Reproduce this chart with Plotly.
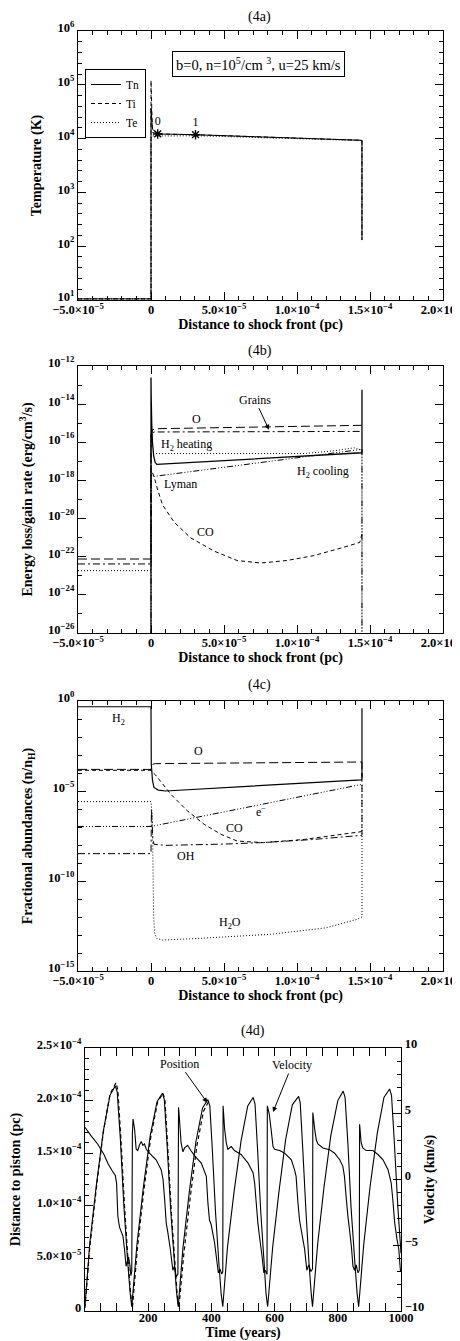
import plotly.graph_objects as go

W, H = 460, 1341

# ---------------- Panel (4a) temperature ----------------
a_tn_x = [-5e-5, 0, 0, 1e-6, 4.6e-6, 3.05e-5, 1.445e-4, 1.445e-4]
a_tn_y = [10.5, 10.5, 3.7e4, 1.5e4, 1.22e4, 1.18e4, 9.3e3, 130]
a_ti_x = [-5e-5, 0, 0, 1e-6, 4.6e-6, 3.05e-5, 1.445e-4, 1.445e-4]
a_ti_y = [10.5, 10.5, 1.2e5, 1.3e4, 1.22e4, 1.18e4, 9.3e3, 130]
a_te_x = [-5e-5, 0, 0, 1e-6, 4.6e-6, 3.05e-5, 1.445e-4, 1.445e-4]
a_te_y = [10.5, 10.5, 1.2e4, 1.12e4, 1.12e4, 1.13e4, 9.2e3, 130]
a_mark_x = [4.6e-6, 3.05e-5]
a_mark_y = [1.22e4, 1.18e4]
a_mark_lbl = ["0", "1"]

# ---------------- Panel (4b) energy rates (log10) ----------------
b_h2cool_x = [0, 0, 1e-7, 5e-7, 1.0e-6, 1.8e-6, 2.8e-6, 4e-6, 1.445e-4, 1.445e-4]
b_h2cool_y = [-27, -12.6, -13.5, -15.0, -16.0, -16.7, -17.05, -17.16, -16.55, -13.25]
b_o_x = [-5e-5, 0, 0, 1e-6, 3e-6, 1.445e-4]
b_o_y = [-22.12, -22.12, -15.6, -15.35, -15.29, -15.11]
b_grain_x = [-5e-5, 0, 0, 2e-6, 1.445e-4]
b_grain_y = [-22.38, -22.38, -15.6, -15.46, -15.43]
b_h2heat_x = [-5e-5, 0, 0, 2e-6, 1.05e-4, 1.25e-4, 1.39e-4, 1.445e-4, 1.445e-4]
b_h2heat_y = [-22.73, -22.73, -16.6, -16.59, -16.59, -16.45, -16.29, -16.41, -27]
b_lyman_x = [0, 0, 1e-6, 1.445e-4, 1.445e-4]
b_lyman_y = [-27, -17.7, -17.8, -16.37, -27]
b_co_x = [1e-6, 2.3e-6, 4.6e-6, 8e-6, 1.6e-5, 2.7e-5, 4.3e-5, 5.9e-5, 7.5e-5, 9.3e-5, 1.11e-4, 1.3e-4, 1.43e-4, 1.445e-4]
b_co_y = [-17.6, -17.86, -18.5, -19.3, -20.2, -21.0, -21.7, -22.2, -22.33, -22.2, -21.95, -21.55, -21.25, -20.8]

# ---------------- Panel (4c) abundances (log10) ----------------
c_h2_x = [-5e-5, 0, 0, 2e-7, 1e-6, 2e-6, 5e-6, 1e-5, 1.44e-4, 1.445e-4, 1.445e-4]
c_h2_y = [-0.32, -0.32, -0.32, -3.5, -4.4, -4.8, -4.95, -5.0, -4.38, -4.35, -0.4]
c_o_x = [-5e-5, 0, 5e-7, 1.5e-6, 3e-6, 1.445e-4, 1.445e-4]
c_o_y = [-3.8, -3.8, -3.6, -3.5, -3.48, -3.39, -4.3]
c_co_x = [-5e-5, 0, 1e-6, 3e-6, 1.37e-5, 2.5e-5, 3.64e-5, 4.8e-5, 5.9e-5, 7.7e-5, 1.05e-4, 1.44e-4, 1.445e-4]
c_co_y = [-3.85, -3.85, -3.95, -4.1, -5.19, -6.11, -6.85, -7.41, -7.78, -7.87, -7.69, -7.26, -7.0]
c_e_x = [-5e-5, 0, 1.445e-4]
c_e_y = [-6.97, -6.97, -4.63]
c_oh_x = [-5e-5, 0, 3e-7, 1.2e-6, 2e-6, 1e-5, 5e-5, 7.5e-5, 1.1e-4, 1.445e-4, 1.445e-4]
c_oh_y = [-8.48, -8.48, -6.0, -7.6, -7.96, -8.02, -7.95, -7.87, -7.7, -7.46, -4.0]
c_h2o_x = [-5e-5, 0, 1e-6, 1.4e-6, 1.8e-6, 2.5e-6, 4e-6, 8e-6, 3e-5, 8.2e-5, 1.2e-4, 1.41e-4, 1.445e-4, 1.445e-4]
c_h2o_y = [-5.59, -5.59, -6.5, -9.5, -12.0, -12.9, -13.2, -13.28, -13.2, -12.96, -12.6, -12.13, -12.0, -4.6]

# ---------------- Panel (4d) time series ----------------
d_pos_t = [0, 15, 36, 58, 79, 96, 102, 112, 123, 135, 143, 148,
           164, 184, 206, 228, 245, 251, 260, 271, 283, 290, 295,
           310, 330, 351, 372, 389, 395, 403, 413, 424, 431, 436,
           451, 472, 494, 515, 532, 538, 546, 556, 567, 573, 578,
           594, 614, 635, 656, 676, 681, 689, 699, 709, 716, 720,
           736, 756, 778, 800, 817, 823, 832, 842, 854, 861, 866,
           882, 902, 925, 946, 964, 970, 979, 990, 1000]
d_pos_v = [0.05, 0.64, 1.2, 1.71, 2.05, 2.14, 2.08, 1.63, 1.0, 0.47, 0.17, 0.04,
           0.62, 1.16, 1.66, 1.99, 2.07, 2.01, 1.57, 0.97, 0.46, 0.17, 0.04,
           0.6, 1.13, 1.61, 1.93, 2.01, 1.95, 1.53, 0.94, 0.44, 0.16, 0.04,
           0.61, 1.14, 1.62, 1.95, 2.03, 1.97, 1.54, 0.95, 0.45, 0.16, 0.04,
           0.61, 1.14, 1.63, 1.96, 2.04, 1.98, 1.55, 0.96, 0.45, 0.16, 0.04,
           0.63, 1.17, 1.67, 2.0, 2.09, 2.03, 1.59, 0.98, 0.46, 0.17, 0.04,
           0.63, 1.18, 1.69, 2.03, 2.11, 2.05, 1.6, 0.99, 0.55]
d_pos2_t = [0, 15, 36, 58, 79, 98, 104, 114, 125, 137, 145, 150,
            166, 186, 208, 230, 247, 253, 262, 273, 285, 292, 297,
            313, 333, 354, 375, 391]
d_pos2_v = [0.03, 0.6, 1.17, 1.7, 2.06, 2.17, 2.1, 1.62, 1.0, 0.45, 0.15, 0.03,
            0.6, 1.14, 1.65, 1.99, 2.07, 2.0, 1.55, 0.95, 0.44, 0.15, 0.03,
            0.55, 1.08, 1.57, 1.9, 1.99]
d_vel_t = [0, 20, 40, 60, 73, 85, 96, 100, 104, 109, 120, 125, 130, 133, 138, 142, 145, 148,
           150, 152, 157, 162, 167, 172, 178, 183, 188, 194, 204, 225, 241, 247, 252, 257, 262,
           270, 278, 283, 289, 294, 296, 299, 304, 310, 315, 325, 335, 347, 368, 384, 389, 394,
           399, 410, 418, 422, 427, 433, 436, 437, 442, 447, 452, 463, 473, 494, 516, 532, 537,
           542, 547, 552, 560, 566, 570, 576, 577, 583, 589, 595, 600, 616, 632, 653, 663, 668,
           674, 679, 684, 695, 702, 708, 715, 720, 721, 727, 732, 737, 753, 774, 790, 806, 816,
           821, 827, 832, 837, 843, 848, 853, 858, 864, 868, 869, 874, 879, 890, 911, 927, 943,
           959, 969, 974, 980, 987, 993, 998, 1000]
d_vel_v = [3.97, 3.3, 2.7, 1.9, 1.2, 0.7, 0.3, -0.3, -2.8, -3.6, -4.3, -5.3, -6.6, -6.3, -5.9, -6.5, -7.3, -7.0,
           3.5, 4.6, 3.8, 2.3, 2.2, 2.6, 2.9, 2.6, 2.7, 2.3, 2.0, 1.5, 0.75, 0.0, -1.5, -3.3, -4.0,
           -5.3, -6.9, -6.6, -7.4, -7.2, 5.5, 4.6, 2.8, 2.1, 2.4, 2.6, 2.2, 1.8, 1.25, 0.24, -1.8, -3.1,
           -3.4, -4.8, -6.35, -7.1, -6.8, -7.2, -7.0, 5.6, 3.8, 2.8, 2.3, 2.5, 2.2, 1.9, 1.25, 0.5, -0.3,
           -1.8, -3.3, -4.3, -5.8, -7.1, -6.9, -7.2, 5.6, 5.0, 3.8, 2.5, 2.3, 2.2, 2.0, 1.5, 0.75, 0.24,
           -1.8, -3.1, -3.8, -5.3, -6.9, -6.5, -7.0, -6.8, 5.1, 3.8, 3.0, 2.7, 2.4, 2.27, 2.0, 1.5, 1.0,
           0.24, -1.5, -2.8, -3.8, -5.1, -6.6, -6.9, -6.5, -7.1, -6.9, 4.2, 2.8, 2.4, 2.2, 2.2, 1.9, 1.5,
           0.75, -0.27, -1.5, -3.3, -4.5, -5.3, -6.9, -7.0]

# ---------------- tick labels ----------------
xs_vals = [-5e-5, 0, 5e-5, 1e-4, 1.5e-4, 2e-4]
xs_text = ["−5.0×10<sup>−5</sup>", "0", "5.0×10<sup>−5</sup>", "1.0×10<sup>−4</sup>",
           "1.5×10<sup>−4</sup>", "2.0×10<sup>−4</sup>"]
ya_exp = [1, 2, 3, 4, 5, 6]
yb_exp = [-12, -14, -16, -18, -20, -22, -24, -26]
yc_exp = [0, -5, -10, -15]
yd_vals = [0, 5e-5, 1e-4, 1.5e-4, 2e-4, 2.5e-4]
yd_text = ["0", "5.0×10<sup>−5</sup>", "1.0×10<sup>−4</sup>", "1.5×10<sup>−4</sup>",
           "2.0×10<sup>−4</sup>", "2.5×10<sup>−4</sup>"]
yv_vals = [-10, -5, 0, 5, 10]
yv_text = ["−10", "−5", "0", "5", "10"]
xd_vals = [200, 400, 600, 800, 1000]


def sup(e):
    return "10<sup>" + (str(e).replace("-", "−")) + "</sup>"


def p10(v):
    return [10 ** x for x in v]


BOLD = dict(family="Liberation Serif", size=12.5, color="black", weight="bold")
TITLEF = dict(family="Liberation Serif", size=14, color="black", weight="bold")
TXT = dict(family="Liberation Serif", size=12, color="black")

fig = go.Figure()
K = "black"


def line(x, y, dash, xa, ya, name=None, legend=False, width=1):
    fig.add_trace(go.Scatter(x=x, y=y, mode="lines", xaxis=xa, yaxis=ya,
                             line=dict(color=K, width=width, dash=dash, simplify=False),
                             name=name, showlegend=legend, hoverinfo="skip"))


DDD = "6px,2px,1px,2px,1px,2px,1px,2px"
DD = "7px,3px,2px,3px"
SD = "4px,3px"
LD = "9px,4px"

# panel a
line(a_tn_x, a_tn_y, "solid", "x", "y", "Tn", True)
line(a_ti_x, a_ti_y, "4px,3px", "x", "y", "Ti", True)
line(a_te_x, a_te_y, "1px,2px", "x", "y", "Te", True)
fig.add_trace(go.Scatter(x=a_mark_x, y=a_mark_y, mode="markers+text", text=a_mark_lbl,
                         textposition="top center", textfont=TXT, xaxis="x", yaxis="y",
                         marker=dict(symbol="asterisk-open", size=8, color=K, line=dict(color=K, width=1.4)),
                         showlegend=False, hoverinfo="skip"))

# panel b
line(b_o_x, p10(b_o_y), LD, "x2", "y2")
line(b_grain_x, p10(b_grain_y), DD, "x2", "y2")
line(b_h2heat_x, p10(b_h2heat_y), "1px,2px", "x2", "y2")
line(b_lyman_x, p10(b_lyman_y), DDD, "x2", "y2")
line(b_co_x, p10(b_co_y), SD, "x2", "y2")
line(b_h2cool_x, p10(b_h2cool_y), "solid", "x2", "y2", width=1.3)

# panel c
line(c_o_x, p10(c_o_y), LD, "x3", "y3")
line(c_co_x, p10(c_co_y), SD, "x3", "y3")
line(c_e_x, p10(c_e_y), DDD, "x3", "y3")
line(c_oh_x, p10(c_oh_y), DD, "x3", "y3")
line(c_h2o_x, p10(c_h2o_y), "1px,2px", "x3", "y3")
line(c_h2_x, p10(c_h2_y), "solid", "x3", "y3", width=1.2)

# panel d
line(d_pos2_t, [v * 1e-4 for v in d_pos2_v], "4px,3px", "x4", "y4", width=1.2)
line(d_pos_t, [v * 1e-4 for v in d_pos_v], "solid", "x4", "y4", width=1.1)
line(d_vel_t, d_vel_v, "solid", "x4", "y5", width=1.1)


def dom_x(l, r):
    return [l / W, r / W]


def dom_y(t, b):
    return [1 - b / H, 1 - t / H]


def ax(**kw):
    d = dict(showline=True, linecolor=K, linewidth=1.3, mirror="allticks", ticks="inside",
             ticklen=8, tickwidth=1, tickcolor=K, showgrid=False, zeroline=False,
             tickfont=BOLD, automargin=False, title_font=TITLEF)
    d.update(kw)
    return d


xminor = [i * 1e-5 for i in range(-4, 20) if i % 5 != 0]


def xshock(anchor):
    return ax(domain=dom_x(70, 435), range=[-5e-5, 2e-4], anchor=anchor, tickmode="array",
              tickvals=xs_vals, ticktext=xs_text, ticklabelstandoff=-2,
              minor=dict(ticks="inside", ticklen=4, tickvals=xminor, tickcolor=K, tickwidth=1),
              title=dict(text="Distance to shock front (pc)", standoff=0))


fig.update_layout(
    width=W, height=H, margin=dict(l=0, r=0, t=0, b=0),
    paper_bgcolor="white", plot_bgcolor="white", showlegend=True,
    xaxis=xshock("y"),
    yaxis=ax(domain=dom_y(23, 292), type="log", range=[1, 6], anchor="x",
             tickvals=[10 ** e for e in ya_exp], ticktext=[sup(e) for e in ya_exp],
             ticklabelshift=-3,
             minor=dict(ticks="inside", ticklen=4, tickcolor=K, tickwidth=1,
                        tickvals=[10 ** (k + j / 5) for k in range(1, 6) for j in range(1, 5)]),
             title=dict(text="Temperature (K)", standoff=12)),
    xaxis2=xshock("y2"),
    yaxis2=ax(domain=dom_y(358, 625), type="log", range=[-26, -12], anchor="x2",
              tickvals=[10 ** e for e in yb_exp], ticktext=[sup(e) for e in yb_exp],
              ticklabelshift=-3,
              minor=dict(ticks="inside", ticklen=4, tickcolor=K, tickwidth=1,
                         tickvals=[10 ** e for e in range(-25, -12, 2)]),
              title=dict(text="Energy loss/gain rate (erg/cm<sup>3</sup>/s)", standoff=12)),
    xaxis3=xshock("y3"),
    yaxis3=ax(domain=dom_y(693, 963), type="log", range=[-15, 0], anchor="x3",
              tickvals=[10 ** e for e in yc_exp], ticktext=[sup(e) for e in yc_exp],
              ticklabelshift=-3,
              minor=dict(ticks="inside", ticklen=4, tickcolor=K, tickwidth=1,
                         tickvals=[10 ** e for e in range(-14, 0) if e % 5 != 0]),
              title=dict(text="Fractional abundances (n/n<sub>H</sub>)", standoff=12)),
    xaxis4=ax(domain=dom_x(77, 393), range=[0, 1000], anchor="y4", tickvals=xd_vals,
              ticklabelstandoff=-5,
              minor=dict(ticks="inside", ticklen=4, tickcolor=K, tickwidth=1, dtick=50),
              title=dict(text="Time (years)", standoff=0)),
    yaxis4=ax(domain=dom_y(1040, 1303), range=[0, 2.5e-4], anchor="x4", mirror=False,
              tickvals=yd_vals, ticktext=yd_text, ticklabelshift=-3,
              minor=dict(ticks="inside", ticklen=4, tickcolor=K, tickwidth=1, dtick=1e-5),
              title=dict(text="Distance to piston (pc)", standoff=15)),
    yaxis5=ax(domain=dom_y(1040, 1303), range=[-10, 10], anchor="x4", overlaying="y4",
              side="right", mirror=False, tickvals=yv_vals, ticktext=yv_text, ticklabelshift=-4,
              minor=dict(ticks="inside", ticklen=4, tickcolor=K, tickwidth=1, dtick=1),
              title=dict(text="Velocity (km/s)", standoff=0)),
    legend=dict(x=77 / W, y=1 - 61 / H, xanchor="left", yanchor="top", bordercolor=K,
                borderwidth=1, bgcolor="rgba(0,0,0,0)",
                font=dict(family="Liberation Serif", size=11.5, color=K),
                itemwidth=30, tracegroupgap=0),
)

ann = []
TT = dict(family="Liberation Serif", size=14, color=K)
for txt, y in [("(4a)", 9), ("(4b)", 343), ("(4c)", 677), ("(4d)", 1023)]:
    ann.append(dict(text=txt, x=(252 if txt != "(4d)" else 245) / W, y=1 - y / H, xref="paper",
                    yref="paper", showarrow=False, font=TT, xanchor="center", yanchor="middle"))
ann.append(dict(text="b=0, n=10<sup>5</sup>/cm <sup>3</sup>, u=25 km/s", x=250 / W, y=1 - 43 / H,
                xref="paper", yref="paper", showarrow=False,
                font=dict(family="Liberation Serif", size=14.5, color=K),
                bordercolor=K, borderwidth=1, borderpad=3, bgcolor="white"))

# panel b labels (log coords)
for txt, x, y in [("O", 3.14e-5, -14.76), ("H<sub>2</sub> heating", 2.44e-5, -16.12),
                  ("Lyman", 2.0e-5, -18.2), ("H<sub>2</sub> cooling", 1.178e-4, -17.55),
                  ("CO", 3.75e-5, -20.73)]:
    ann.append(dict(text=txt, x=x, y=y, xref="x2", yref="y2", showarrow=False, font=TXT))
ann.append(dict(text="Grains", x=8.08e-5, y=-15.34, xref="x2", yref="y2", ax=-14, ay=-30,
                showarrow=True, arrowhead=2, arrowsize=1, arrowwidth=1, arrowcolor=K, font=TXT))

# panel c labels
for txt, x, y in [("H<sub>2</sub>", -2.2e-5, -1.02), ("O", 3.23e-5, -2.78), ("e<sup>−</sup>", 7.5e-5, -6.15),
                  ("CO", 5.69e-5, -7.04), ("OH", 2.39e-5, -8.61), ("H<sub>2</sub>O", 5.39e-5, -12.36)]:
    ann.append(dict(text=txt, x=x, y=y, xref="x3", yref="y3", showarrow=False, font=TXT))

# panel d labels
ann.append(dict(text="Position", x=387, y=1.98e-4, xref="x4", yref="y4", ax=-28, ay=-39,
                showarrow=True, arrowhead=2, arrowsize=1, arrowwidth=1, arrowcolor=K, font=TXT))
ann.append(dict(text="Velocity", x=595, y=5.13, xref="x4", yref="y5", ax=19, ay=-47,
                showarrow=True, arrowhead=2, arrowsize=1, arrowwidth=1, arrowcolor=K, font=TXT))

fig.update_layout(annotations=ann)
fig.write_html("out.html")
